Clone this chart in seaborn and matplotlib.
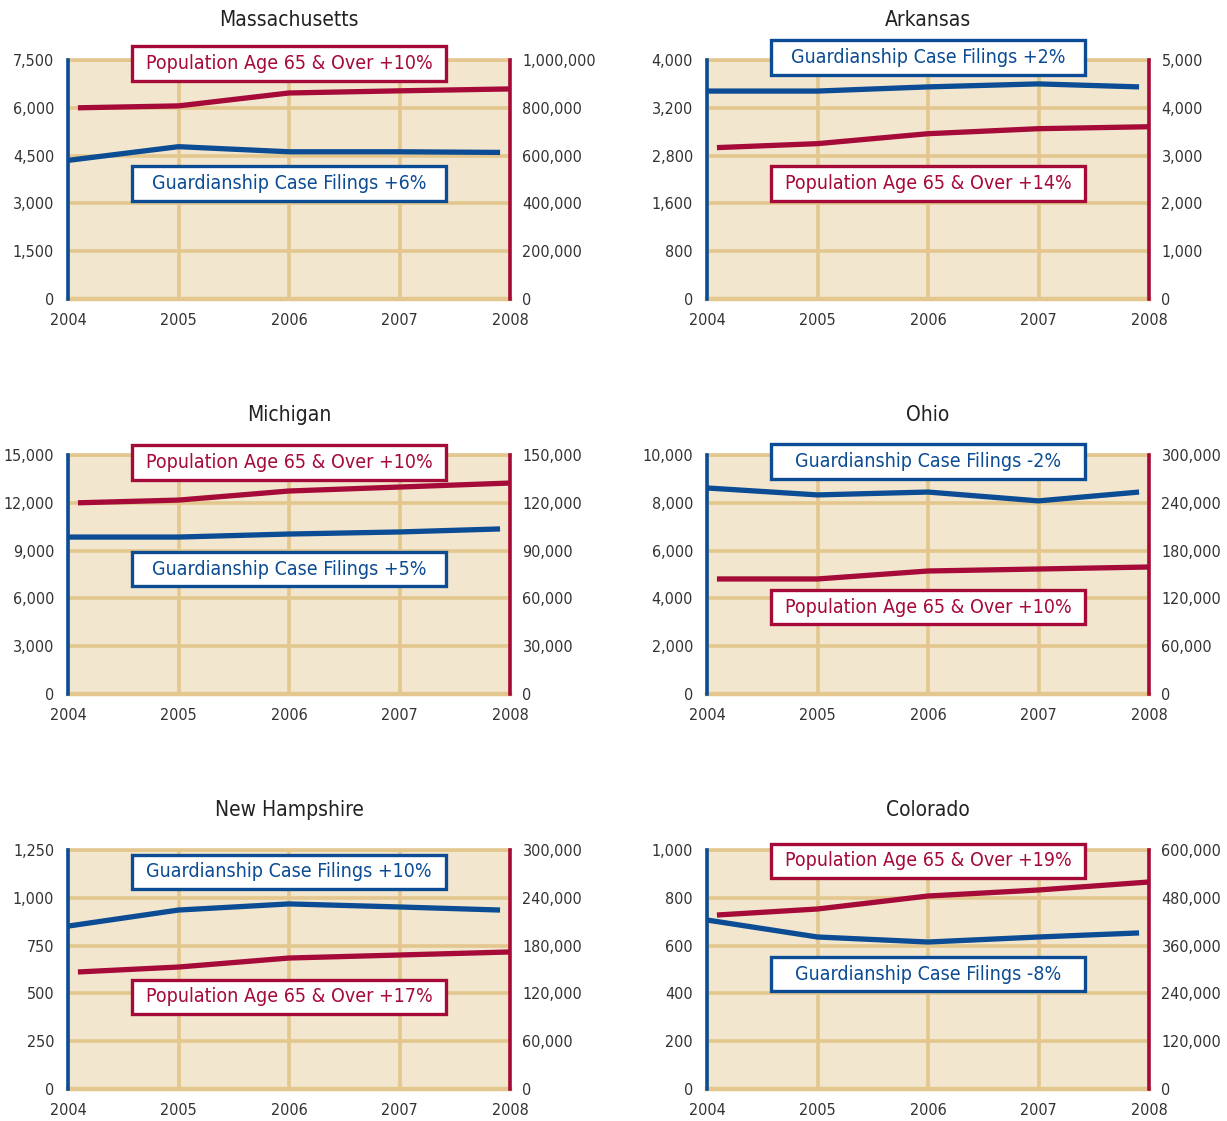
import numpy as np
import matplotlib.pyplot as plt
from matplotlib.patches import Rectangle
import seaborn as sns

sns.set_theme(style="white")
plt.rcParams['font.family'] = ['DejaVu Sans']
plt.rcParams['font.stretch'] = 'condensed'

# data
years = [2004, 2005, 2006, 2007, 2008]
states = ["Massachusetts", "Arkansas", "Michigan", "Ohio", "New Hampshire", "Colorado"]

cases_ma = [4350, 4780, 4620, 4620, 4600]
pop_ma = [800000, 808000, 862000, 871000, 879000]
cases_ar = [3480, 3480, 3550, 3600, 3550]
pop_ar = [3167, 3250, 3458, 3563, 3604]
cases_mi = [9850, 9850, 10040, 10170, 10360]
pop_mi = [120000, 121700, 127400, 129900, 132400]
cases_oh = [8620, 8330, 8450, 8080, 8450]
pop_oh = [144400, 144400, 154400, 156900, 159400]
cases_nh = [852, 936, 968, 952, 936]
pop_nh = [146900, 153100, 164400, 168200, 172000]
cases_co = [707, 636, 615, 636, 653]
pop_co = [436800, 451900, 484500, 499600, 519700]

cases_all = [cases_ma, cases_ar, cases_mi, cases_oh, cases_nh, cases_co]
pop_all = [pop_ma, pop_ar, pop_mi, pop_oh, pop_nh, pop_co]

left_max = [7500, 4000, 15000, 10000, 1250, 1000]
right_max = [1000000, 5000, 150000, 300000, 300000, 600000]
# Arkansas left axis is labelled this way in the original
ar_left_labels = ["0", "800", "1,600", "2,800", "3,200", "4,000"]

cases_labels = ["Guardianship Case Filings +6%", "Guardianship Case Filings +2%",
                "Guardianship Case Filings +5%", "Guardianship Case Filings -2%",
                "Guardianship Case Filings +10%", "Guardianship Case Filings -8%"]
pop_labels = ["Population Age 65 & Over +10%", "Population Age 65 & Over +14%",
              "Population Age 65 & Over +10%", "Population Age 65 & Over +10%",
              "Population Age 65 & Over +17%", "Population Age 65 & Over +19%"]

# vertical centres of the label boxes (axes fraction)
cases_box_y = [0.483, 1.01, 0.523, 0.971, 0.908, 0.481]
pop_box_y = [0.985, 0.483, 0.967, 0.364, 0.385, 0.954]

blue = "#0B4C94"
red = "#A50A38"
tan = "#E3C78E"
bg = "#F2E6CE"
txt = "#333333"

fig = plt.figure(figsize=(12.27, 11.21), dpi=100)
W, H = 1227, 1121
lefts = [68, 707]
tops = [60, 455, 850]

for i, state in enumerate(states):
    col, row = i % 2, i // 2
    ax = fig.add_axes([lefts[col] / W, 1 - (tops[row] + 239) / H, 442 / W, 239 / H])
    ax2 = ax.twinx()
    ax.set_facecolor(bg)
    ax2.patch.set_visible(False)

    # the pop line starts a hair after 2004 and the cases line stops short of 2008
    x_cases = list(years)
    x_cases[-1] = 2007.91
    x_pop = list(years)
    x_pop[0] = 2004.09

    sns.lineplot(x=x_cases, y=cases_all[i], ax=ax, color=blue, lw=3.8,
                 solid_capstyle="butt", zorder=5)
    sns.lineplot(x=x_pop, y=pop_all[i], ax=ax2, color=red, lw=3.8,
                 solid_capstyle="butt", zorder=5)

    ax.set_xlim(2004, 2008)
    ax.set_ylim(0, left_max[i])
    ax2.set_ylim(0, right_max[i])
    lt = np.linspace(0, left_max[i], 6)
    rt = np.linspace(0, right_max[i], 6)
    ax.set_yticks(lt)
    ax2.set_yticks(rt)
    if state == "Arkansas":
        ax.set_yticklabels(ar_left_labels)
    else:
        ax.set_yticklabels([f"{v:,.0f}" for v in lt])
    ax2.set_yticklabels([f"{v:,.0f}" for v in rt])
    ax.set_xticks(years)
    ax.set_xticklabels([str(y) for y in years])

    ax.set_xlabel("")
    ax.set_ylabel("")
    ax2.set_ylabel("")
    ax.grid(True, color=tan, lw=2.6, zorder=0)
    ax.set_axisbelow(True)
    ax2.grid(False)

    ax.tick_params(axis="both", length=0, labelsize=11.5, labelcolor=txt)
    ax.tick_params(axis="x", pad=10)
    ax.tick_params(axis="y", pad=10)
    ax2.tick_params(axis="y", length=0, labelsize=11.5, labelcolor=txt, pad=9)

    for sp in ax.spines.values():
        sp.set_visible(False)
    for sp in ax2.spines.values():
        sp.set_visible(False)
    ax.spines["top"].set_visible(True)
    ax.spines["top"].set_color(tan)
    ax.spines["top"].set_linewidth(2.6)
    ax.spines["bottom"].set_visible(True)
    ax.spines["bottom"].set_color(tan)
    ax.spines["bottom"].set_linewidth(3.2)
    ax2.spines["left"].set_visible(True)
    ax2.spines["left"].set_color(blue)
    ax2.spines["left"].set_linewidth(2.6)
    ax2.spines["right"].set_visible(True)
    ax2.spines["right"].set_color(red)
    ax2.spines["right"].set_linewidth(2.6)

    ax.text(0.5, 1.167, state, transform=ax.transAxes, ha="center", va="center",
            fontsize=15, color="#222222")

    bw, bh = 0.71, 0.146
    for label, yc, c in [(cases_labels[i], cases_box_y[i], blue),
                         (pop_labels[i], pop_box_y[i], red)]:
        ax2.add_patch(Rectangle((0.5 - bw / 2, yc - bh / 2), bw, bh, transform=ax2.transAxes,
                                facecolor="white", edgecolor=c, lw=2.4, clip_on=False, zorder=10))
        ax2.text(0.5, yc, label, transform=ax2.transAxes, ha="center", va="center",
                 fontsize=14, color=c, zorder=11)

fig.savefig("out.png", dpi=100)
